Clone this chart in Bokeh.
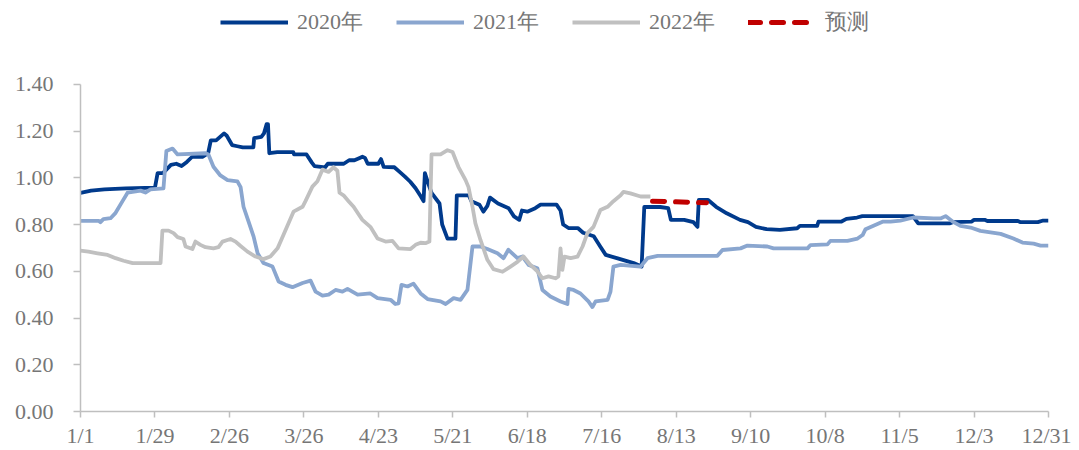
from bokeh.plotting import figure
from bokeh.models import Range1d, FixedTicker, PrintfTickFormatter, Legend, LegendItem
from bokeh.embed import file_html
from bokeh.resources import INLINE

# ---------------- data ----------------
tick_days = [0, 28, 56, 84, 112, 140, 168, 196, 224, 252, 280, 308, 336, 364]
tick_labels = ["1/1", "1/29", "2/26", "3/26", "4/23", "5/21", "6/18", "7/16",
               "8/13", "9/10", "10/8", "11/5", "12/3", "12/31"]
y_ticks = [0.0, 0.2, 0.4, 0.6, 0.8, 1.0, 1.2, 1.4]

x_2020 = [0, 4, 9, 17, 28, 29, 31, 34, 36, 38, 40, 42, 46, 48, 49, 51, 54, 55, 57, 59,
          61, 65, 65.3, 68, 69, 70, 70.5, 71, 74, 80, 80.3, 85, 87, 88, 92, 93, 99, 101,
          103, 105, 106, 107, 108, 112, 113, 114, 118, 120, 122, 124, 126, 128, 129, 129.5,
          130.5, 132, 134, 135, 136, 138, 141, 141.5, 146, 147, 150, 151.5, 153, 154, 157,
          161, 163, 165, 166, 168, 171, 173, 179, 180.5, 181.5, 183.5, 187, 189, 193, 195.5,
          197.5, 202, 208, 211, 212, 218, 221, 222, 227, 230.5, 232, 232.5, 236, 239, 243,
          248, 251, 254, 258, 263, 269.5, 270.5, 277, 277.5, 286, 288, 292, 294, 313, 315,
          327, 328, 335, 336, 340, 341, 352.5, 353.5, 360, 362, 364]
y_2020 = [0.935, 0.945, 0.95, 0.955, 0.958, 1.02, 1.02, 1.055, 1.06, 1.05, 1.068, 1.09,
          1.09, 1.105, 1.16, 1.16, 1.19, 1.18, 1.14, 1.135, 1.13, 1.13, 1.17, 1.175, 1.19,
          1.23, 1.23, 1.105, 1.11, 1.11, 1.10, 1.10, 1.065, 1.05, 1.045, 1.06, 1.06, 1.075,
          1.075, 1.085, 1.09, 1.085, 1.06, 1.06, 1.08, 1.047, 1.045, 1.025, 1.005, 0.983,
          0.955, 0.92, 0.90, 1.02, 0.985, 0.935, 0.905, 0.89, 0.80, 0.74, 0.74, 0.925, 0.925,
          0.90, 0.885, 0.855, 0.88, 0.915, 0.89, 0.87, 0.835, 0.82, 0.86, 0.855, 0.87, 0.885,
          0.885, 0.86, 0.80, 0.785, 0.785, 0.765, 0.75, 0.705, 0.67, 0.655, 0.635, 0.62,
          0.875, 0.875, 0.87, 0.82, 0.82, 0.81, 0.79, 0.905, 0.905, 0.876, 0.848, 0.82, 0.81,
          0.79, 0.78, 0.777, 0.784, 0.794, 0.794, 0.812, 0.812, 0.824, 0.83, 0.836, 0.836,
          0.805, 0.805, 0.81, 0.812, 0.82, 0.82, 0.815, 0.815, 0.81, 0.81, 0.817, 0.817]

x_2021 = [0, 6.8, 7.5, 8.6, 11.3, 13.2, 15.8, 17.7, 22.6, 24.4, 26.3, 31.2, 32.3, 34.6,
          36.5, 47.0, 48.1, 50.0, 52.6, 55.3, 59.0, 60.2, 61.3, 63.2, 65.1, 66.6, 68.8, 72.2,
          74.5, 77.1, 79.7, 83.5, 86.5, 88.4, 91.0, 93.3, 95.9, 98.5, 100.4, 104.2, 109.0,
          111.7, 116.6, 118.4, 119.6, 120.7, 123.0, 125.2, 127.9, 130.5, 135.4, 137.3, 140.3,
          142.9, 145.5, 147.4, 150.4, 153.0, 156.8, 159.1, 160.9, 164.3, 166.2, 168.5, 171.8,
          173.7, 176.7, 180.5, 183.1, 183.5, 185.4, 188.0, 191.0, 192.5, 193.7, 198.2, 199.3,
          200.4, 203.1, 210.6, 213.2, 217.0, 239.5, 241.4, 248.2, 250.8, 258.3, 260.6, 273.4,
          274.5, 280.9, 282.0, 288.4, 292.2, 294.1, 295.2, 298.2, 301.6, 304.6, 308.3, 313.2,
          320.8, 323.4, 325.3, 328.3, 330.9, 334.7, 338.4, 346.0, 350.8, 354.2, 358.4, 361.0,
          364]
y_2021 = [0.816, 0.816, 0.81, 0.823, 0.827, 0.85, 0.90, 0.936, 0.945, 0.937, 0.95, 0.955,
          1.115, 1.125, 1.10, 1.105, 1.10, 1.047, 1.01, 0.99, 0.985, 0.96, 0.876, 0.812,
          0.748, 0.677, 0.635, 0.62, 0.556, 0.542, 0.532, 0.55, 0.56, 0.513, 0.496, 0.50,
          0.52, 0.513, 0.525, 0.50, 0.505, 0.485, 0.478, 0.46, 0.463, 0.542, 0.535, 0.547,
          0.505, 0.481, 0.471, 0.46, 0.485, 0.478, 0.52, 0.706, 0.706, 0.695, 0.677, 0.656,
          0.692, 0.656, 0.663, 0.627, 0.613, 0.52, 0.492, 0.471, 0.46, 0.525, 0.52, 0.505,
          0.471, 0.447, 0.471, 0.478, 0.513, 0.62, 0.627, 0.62, 0.656, 0.666, 0.666, 0.691,
          0.698, 0.71, 0.706, 0.698, 0.698, 0.712, 0.715, 0.73, 0.73, 0.74, 0.755, 0.78,
          0.795, 0.812, 0.812, 0.817, 0.83, 0.826, 0.826, 0.836, 0.81, 0.794, 0.787, 0.773,
          0.76, 0.74, 0.723, 0.718, 0.71, 0.71]

x_2022 = [0, 3.0, 6.4, 10.2, 13.2, 16.2, 19.6, 30.1, 30.8, 33.1, 35.0, 36.5, 38.7, 39.5,
          42.1, 43.2, 45.1, 47.0, 50.0, 51.9, 53.4, 56.4, 58.3, 60.2, 62.8, 65.8, 68.8, 71.4,
          74.1, 76.3, 80.1, 83.5, 84.6, 87.2, 89.1, 91.0, 93.3, 95.1, 96.6, 97.4, 98.9, 100.8,
          102.7, 104.5, 106.0, 109.0, 111.7, 114.7, 117.3, 119.6, 124.1, 126.0, 127.9, 129.7,
          131.2, 132.0, 135.4, 138.0, 139.9, 142.1, 144.8, 145.9, 147.4, 148.5, 150.4, 153.0,
          155.3, 158.7, 161.7, 164.3, 166.6, 169.2, 171.8, 173.7, 176.0, 178.6, 179.7, 180.5,
          181.2, 182.0, 184.3, 186.9, 188.8, 190.6, 192.9, 195.5, 198.2, 200.4, 203.1, 204.2,
          206.8, 210.6, 214.3]
y_2022 = [0.688, 0.684, 0.677, 0.67, 0.656, 0.645, 0.635, 0.635, 0.774, 0.774, 0.763,
          0.746, 0.738, 0.706, 0.695, 0.727, 0.713, 0.703, 0.698, 0.703, 0.727, 0.738, 0.727,
          0.708, 0.684, 0.663, 0.652, 0.663, 0.698, 0.755, 0.855, 0.876, 0.90, 0.962, 0.985,
          1.035, 1.025, 1.045, 1.03, 0.936, 0.925, 0.90, 0.876, 0.845, 0.82, 0.79, 0.74,
          0.727, 0.73, 0.698, 0.695, 0.713, 0.722, 0.72, 0.727, 1.10, 1.10, 1.118, 1.11,
          1.047, 0.99, 0.96, 0.876, 0.805, 0.734, 0.649, 0.609, 0.598, 0.62, 0.64, 0.663,
          0.627, 0.60, 0.57, 0.578, 0.57, 0.578, 0.698, 0.606, 0.663, 0.656, 0.663, 0.706,
          0.763, 0.79, 0.862, 0.876, 0.90, 0.925, 0.94, 0.933, 0.92, 0.92]

x_forecast = [215.1, 235.4]
y_forecast = [0.90, 0.893]

# ---------------- figure ----------------
FONT = "Liberation Serif"
TXT = "#767676"
AX = "#BFBFBF"

# frame spans the whole height above the x axis; the value axis itself stops at 1.40
Y_TOP = 1.4 * 412 / 328

p = figure(width=1071, height=450, output_backend="svg", toolbar_location=None,
           x_range=Range1d(0, 364), y_range=Range1d(0, Y_TOP),
           min_border_left=80, min_border_right=23, min_border_top=0, min_border_bottom=38)
p.xgrid.visible = False
p.ygrid.visible = False
p.outline_line_color = None
p.background_fill_color = "white"
p.border_fill_color = "white"

r20 = p.line(x_2020, y_2020, line_color="#003A8C", line_width=3.8, line_join="round")
r21 = p.line(x_2021, y_2021, line_color="#8AA6CF", line_width=3.8, line_join="round")
r22 = p.line(x_2022, y_2022, line_color="#C0C0C0", line_width=3.8, line_join="round")
rfc = p.line(x_forecast, y_forecast, line_color="#C00000", line_width=5,
             line_dash="12 11", line_cap="round")

# axes
xa = p.xaxis[0]
xa.ticker = FixedTicker(ticks=tick_days)
xa.major_label_overrides = {d: lab for d, lab in zip(tick_days, tick_labels)}
ya = p.yaxis[0]
ya.ticker = FixedTicker(ticks=y_ticks)
ya.formatter = PrintfTickFormatter(format="%.2f")
ya.bounds = (0, 1.4)
for a in (xa, ya):
    a.axis_line_color = AX
    a.axis_line_width = 1.5
    a.major_tick_line_color = AX
    a.major_tick_line_width = 1.5
    a.major_tick_in = 0
    a.minor_tick_line_color = None
    a.major_label_text_font = FONT
    a.major_label_text_font_size = "22px"
    a.major_label_text_color = TXT
xa.major_tick_out = 6
xa.major_label_standoff = 5
ya.major_tick_out = 7
ya.major_label_standoff = 20

legend = Legend(items=[LegendItem(label="2020年", renderers=[r20]),
                       LegendItem(label="2021年", renderers=[r21]),
                       LegendItem(label="2022年", renderers=[r22]),
                       LegendItem(label="预测", renderers=[rfc])],
                orientation="horizontal", location=(140, 374),
                glyph_width=68, glyph_height=24, label_height=24, label_standoff=9,
                spacing=33, padding=0, margin=0,
                label_text_font=FONT, label_text_font_size="22px", label_text_color=TXT,
                background_fill_alpha=0, border_line_alpha=0)
p.add_layout(legend, "center")

open("out.html", "w").write(file_html(p, INLINE))
